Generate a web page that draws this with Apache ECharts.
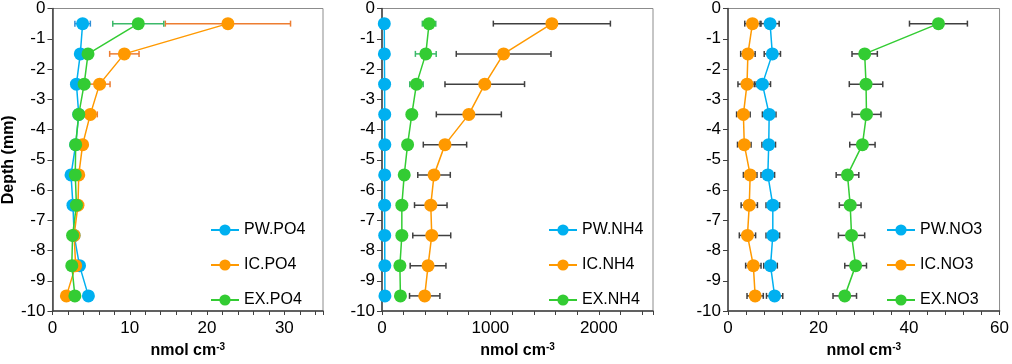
<!DOCTYPE html>
<html>
<head>
<meta charset="utf-8">
<script src="https://cdn.jsdelivr.net/npm/echarts@6/dist/echarts.min.js"></script>
<style>
  html, body { margin: 0; padding: 0; background: #fff; }
  #chart { width: 1012px; height: 364px; }
</style>
</head>
<body>
<div id="chart"></div>
<script>
// depth of each slice (mm)
var depth = [-0.5, -1.5, -2.5, -3.5, -4.5, -5.5, -6.5, -7.5, -8.5, -9.5];

// PO4
var pwPO4 = [3.9, 3.6, 3.1, 3.4, 3.0, 2.4, 2.65, 2.8, 3.5, 4.65];
var pwPO4Err = [1.0, 0.3, 0.3, 0.4, 0.2, 0.2, 0.3, 0.2, 0.6, 0.6];
var icPO4 = [22.7, 9.3, 6.1, 4.9, 3.9, 3.4, 3.3, 2.8, 3.0, 1.8];
var icPO4Err = [8.1, 1.9, 1.35, 0.9, 0.4, 0.3, 0.3, 0.2, 0.3, 0.2];
var exPO4 = [11.1, 4.6, 4.1, 3.4, 3.0, 2.95, 3.1, 2.6, 2.5, 2.9];
var exPO4Err = [3.3, 0.4, 0.3, 0.2, 0.2, 0.2, 0.2, 0.2, 0.2, 0.2];

// NH4
var pwNH4 = [21, 22, 24, 25, 26, 25, 24, 25, 26, 27];
var pwNH4Err = [5, 5, 5, 5, 5, 5, 5, 5, 5, 5];
var icNH4 = [1567, 1122, 948, 801, 581, 480, 450, 459, 425, 394];
var icNH4Err = [540, 437, 367, 300, 200, 150, 150, 175, 165, 140];
var exNH4 = [434, 404, 318, 275, 236, 205, 183, 183, 165, 170];
var exNH4Err = [62, 96, 62, 15, 10, 10, 10, 10, 10, 10];

// NO3
var pwNO3 = [9.3, 9.8, 7.6, 9.1, 9.0, 8.8, 9.9, 9.9, 9.4, 10.3];
var pwNO3Err = [2.0, 1.8, 1.8, 1.5, 1.5, 1.5, 1.5, 1.5, 1.5, 1.8];
var icNO3 = [5.4, 4.4, 4.2, 3.4, 3.6, 4.9, 4.7, 4.3, 5.6, 6.0];
var icNO3Err = [1.7, 1.6, 2.0, 1.5, 1.5, 1.5, 1.8, 1.8, 1.7, 1.8];
var exNO3 = [46.5, 30.2, 30.5, 30.6, 29.7, 26.4, 27.0, 27.3, 28.2, 25.8];
var exNO3Err = [6.4, 2.8, 3.7, 3.2, 2.8, 2.5, 2.4, 2.9, 2.4, 2.6];

var xMax = [35, 2500, 60];
var xTick = [2, 200, 4];
var xLabelStep = [10, 1000, 20];

var BLUE = "#00b0f0", ORANGE = "#ff9900", GREEN = "#33cc33", DARK = "#404040";
var FONT = "Liberation Sans, Arial, sans-serif";

var panels = [
  {
    names: ["PW.PO4", "IC.PO4", "EX.PO4"],
    values: [pwPO4, icPO4, exPO4],
    errs: [pwPO4Err, icPO4Err, exPO4Err],
    errColors: ["#2e8fd8", "#ed7d31", "#3cb96a"],
    left: 52, width: 271, legendLeft: 205
  },
  {
    names: ["PW.NH4", "IC.NH4", "EX.NH4"],
    values: [pwNH4, icNH4, exNH4],
    errs: [pwNH4Err, icNH4Err, exNH4Err],
    errColors: ["#2e8fd8", DARK, "#3cb96a"],
    left: 382, width: 271, legendLeft: 543
  },
  {
    names: ["PW.NO3", "IC.NO3", "EX.NO3"],
    values: [pwNO3, icNO3, exNO3],
    errs: [pwNO3Err, icNO3Err, exNO3Err],
    errColors: [DARK, DARK, DARK],
    left: 728, width: 273, legendLeft: 881
  }
];
var colors = [BLUE, ORANGE, GREEN];

// horizontal error bar with caps
function renderErr(params, api) {
  var x = api.value(0), e = api.value(1), y = api.value(2);
  var a = api.coord([x - e, y]);
  var b = api.coord([x + e, y]);
  var st = { stroke: api.visual("color"), lineWidth: 1.5 };
  var h = 3;
  return {
    type: "group",
    children: [
      { type: "line", shape: { x1: a[0], y1: a[1], x2: b[0], y2: b[1] }, style: st },
      { type: "line", shape: { x1: a[0], y1: a[1] - h, x2: a[0], y2: a[1] + h }, style: st },
      { type: "line", shape: { x1: b[0], y1: b[1] - h, x2: b[0], y2: b[1] + h }, style: st }
    ]
  };
}

var grid = [], xAxis = [], yAxis = [], legend = [], series = [];

panels.forEach(function (p, i) {
  grid.push({
    left: p.left, top: 7, width: p.width, height: 309,
    show: true, borderColor: "#8c8c8c", borderWidth: 1, backgroundColor: "transparent"
  });
  xAxis.push({
    gridIndex: i, type: "value", min: 0, max: xMax[i], interval: xTick[i],
    splitLine: { show: false },
    axisLine: { onZero: false, lineStyle: { color: DARK, width: 1.5 } },
    axisTick: { inside: false, length: 4, lineStyle: { color: DARK, width: 1 } },
    axisLabel: {
      color: "#000", fontSize: 17, fontFamily: FONT, margin: 9,
      showMaxLabel: true,
      formatter: (function (step) {
        return function (v) { return v % step === 0 ? String(v) : ""; };
      })(xLabelStep[i])
    },
    name: "{a|nmol cm}{b|-3}",
    nameLocation: "middle",
    nameGap: 31,
    nameTextStyle: {
      rich: {
        a: { fontSize: 16, fontWeight: "bold", fontFamily: FONT, color: "#000", lineHeight: 18 },
        b: { fontSize: 10, fontWeight: "bold", fontFamily: FONT, color: "#000", verticalAlign: "top", lineHeight: 10 }
      }
    }
  });
  yAxis.push({
    gridIndex: i, type: "value", min: -10, max: 0, interval: 1,
    splitLine: { show: false },
    axisLine: { onZero: false, lineStyle: { color: DARK, width: 1.5 } },
    axisTick: { inside: false, length: 5, lineStyle: { color: DARK, width: 1 } },
    axisLabel: { color: "#000", fontSize: 17, fontFamily: FONT, margin: 7 },
    name: i === 0 ? "Depth (mm)" : "",
    nameLocation: "middle",
    nameGap: 31,
    nameTextStyle: { fontSize: 16, fontWeight: "bold", fontFamily: FONT, color: "#000" }
  });
  legend.push({
    data: p.names,
    orient: "vertical",
    left: p.legendLeft, top: 217,
    itemWidth: 28, itemHeight: 14, itemGap: 19,
    textStyle: { fontSize: 16, fontFamily: FONT, color: "#000" }
  });
  // error bars first, then lines on top
  p.names.forEach(function (n, k) {
    series.push({
      name: n + " err",
      type: "custom",
      xAxisIndex: i, yAxisIndex: i,
      renderItem: renderErr,
      itemStyle: { color: p.errColors[k] },
      encode: { x: 0, y: 2 },
      data: p.values[k].map(function (v, j) { return [v, p.errs[k][j], depth[j]]; }),
      z: 1
    });
  });
  p.names.forEach(function (n, k) {
    series.push({
      name: n,
      type: "line",
      xAxisIndex: i, yAxisIndex: i,
      symbol: "circle", symbolSize: 13, showSymbol: true,
      itemStyle: { color: colors[k] },
      lineStyle: { color: colors[k], width: 1.5 },
      data: p.values[k].map(function (v, j) { return [v, depth[j]]; }),
      z: 2 + k
    });
  });
});

var option = {
  animation: false,
  backgroundColor: "#fff",
  grid: grid,
  xAxis: xAxis,
  yAxis: yAxis,
  legend: legend,
  series: series
};

var myChart = echarts.init(document.getElementById("chart"));
myChart.setOption(option);
</script>
</body>
</html>
